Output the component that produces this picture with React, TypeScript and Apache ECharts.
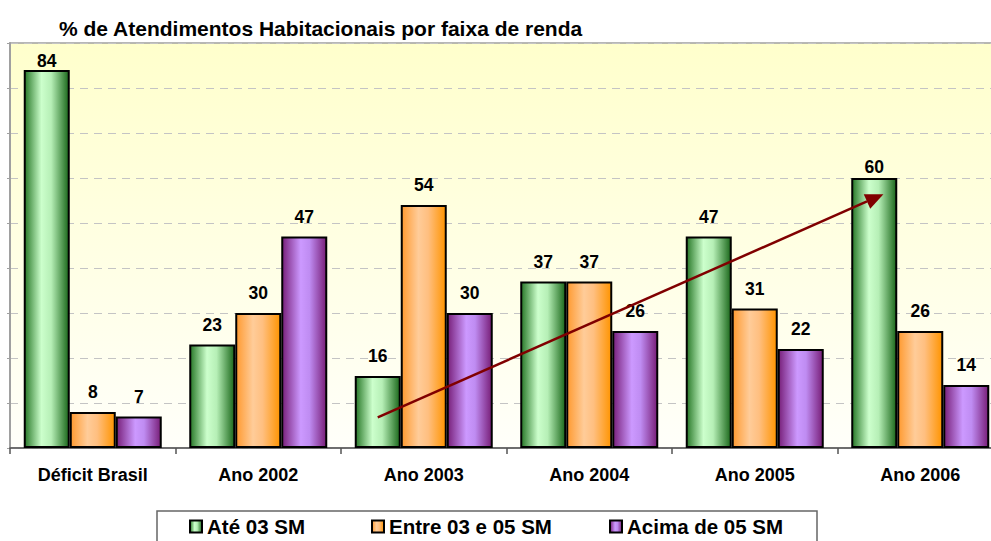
import React, { useEffect, useRef } from "react";
import * as echarts from "echarts";

const titleText = "% de Atendimentos Habitacionais por faixa de renda";
const categories = ["Déficit Brasil", "Ano 2002", "Ano 2003", "Ano 2004", "Ano 2005", "Ano 2006"];
const seriesNames = ["Até 03 SM", "Entre 03 e 05 SM", "Acima de 05 SM"];
const ate03 = [84, 23, 16, 37, 47, 60];
const entre03e05 = [8, 30, 54, 37, 31, 26];
const acima05 = [7, 47, 30, 26, 22, 14];
const yTicks = [0, 10, 20, 30, 40, 50, 60, 70, 80, 90];
// arrow annotation in data terms: category, value, offset in bar widths from the category centre
const arrowStart = { category: "Ano 2003", value: 6.8, barOffset: -1.0 };
const arrowEnd = { category: "Ano 2006", value: 56.4, barOffset: -0.8 };

const FONT = '"Liberation Sans", Arial, sans-serif';
const BAR_W = 46;

function grad(stops: [number, string][]) {
  return new echarts.graphic.LinearGradient(
    0, 0, 1, 0,
    stops.map(([offset, color]) => ({ offset, color }))
  );
}

const gradients = [
  grad([[0, "#287828"], [0.38, "#ccffcc"], [0.6, "#b6efb6"], [1, "#1b681b"]]),
  grad([[0, "#ff9a30"], [0.38, "#ffcc99"], [0.6, "#ffbf80"], [1, "#ff9400"]]),
  grad([[0, "#78207a"], [0.42, "#cc99ff"], [0.62, "#bf8cf2"], [1, "#781e78"]]),
];

const legendLefts = [189, 371, 609];

export default function App() {
  const ref = useRef<HTMLDivElement>(null);
  useEffect(() => {
    if (!ref.current) return;
    const chart = echarts.init(ref.current, undefined, { renderer: "svg" });
    const seriesData = [ate03, entre03e05, acima05];
    const labelDist = (v: number) => {
      // labels near the top of the plot sit closer to the bar
      if (v >= 80) return 0;
      if (v >= 58) return 2;
      return 11;
    };
    const legendBox = {
      type: "rect",
      id: "legendBox",
      shape: { x: 157, y: 511, width: 660, height: 40 },
      style: { fill: "#ffffff", stroke: "#666666", lineWidth: 1.5 },
      z: 0,
    };
    chart.setOption({
      animation: false,
      backgroundColor: "#ffffff",
      textStyle: { fontFamily: FONT },
      title: {
        text: titleText,
        left: 54,
        top: 13,
        textStyle: { fontFamily: FONT, fontWeight: "bold", fontSize: 21, color: "#000" },
      },
      grid: {
        left: 10,
        top: 43,
        width: 993,
        height: 405,
        show: true,
        borderColor: "#a0a0a0",
        borderWidth: 1.5,
        backgroundColor: new echarts.graphic.LinearGradient(0, 0, 0, 1, [
          { offset: 0, color: "#ffffcc" },
          { offset: 1, color: "#fffffa" },
        ]),
      },
      legend: seriesNames.map((name, i) => ({
        data: [name],
        left: legendLefts[i],
        top: 516,
        padding: 0,
        itemWidth: 12,
        itemHeight: 12,
        icon: "rect",
        selectedMode: false,
        z: 5,
        textStyle: { fontFamily: FONT, fontWeight: "bold", fontSize: 20.5, color: "#000" },
      })),
      xAxis: {
        type: "category",
        data: categories,
        axisLine: { lineStyle: { color: "#555", width: 1.5 } },
        axisTick: { show: true, length: 6, lineStyle: { color: "#555", width: 1.5 } },
        axisLabel: { fontFamily: FONT, fontWeight: "bold", fontSize: 18, color: "#000", margin: 18 },
        splitLine: { show: false },
      },
      yAxis: {
        type: "value",
        min: yTicks[0],
        max: yTicks[yTicks.length - 1],
        interval: yTicks[1] - yTicks[0],
        axisLabel: { show: false },
        axisLine: { show: true, lineStyle: { color: "#a0a0a0", width: 2 } },
        axisTick: { show: true, length: 3, lineStyle: { color: "#a0a0a0" } },
        splitLine: { show: true, lineStyle: { color: "#c4c4c4", type: [8, 6], width: 1 } },
      },
      series: seriesNames.map((name, si) => ({
        name,
        type: "bar",
        barWidth: BAR_W,
        barGap: "0%",
        itemStyle: { color: gradients[si], borderColor: "#000", borderWidth: 2 },
        label: {
          show: true,
          position: "top",
          fontFamily: FONT,
          fontWeight: "bold",
          fontSize: 17.5,
          color: "#000",
        },
        data: seriesData[si].map((v) => ({
          value: v,
          label: { distance: labelDist(v) },
        })),
      })),
      graphic: [legendBox],
    });

    const ci = (c: string) => categories.indexOf(c);
    const p0 = chart.convertToPixel({ gridIndex: 0 }, [ci(arrowStart.category), arrowStart.value]) as number[];
    const p1 = chart.convertToPixel({ gridIndex: 0 }, [ci(arrowEnd.category), arrowEnd.value]) as number[];
    const sx = p0[0] + arrowStart.barOffset * BAR_W;
    const sy = p0[1];
    const ex = p1[0] + arrowEnd.barOffset * BAR_W;
    const ey = p1[1];
    const dx = ex - sx, dy = ey - sy;
    const len = Math.sqrt(dx * dx + dy * dy);
    const ux = dx / len, uy = dy / len;
    const headLen = 18, headHalf = 8;
    const bx = ex - ux * headLen, by = ey - uy * headLen;
    const nx = -uy, ny = ux;
    chart.setOption({
      graphic: [
        legendBox,
        {
          type: "line",
          id: "arrowLine",
          shape: { x1: sx, y1: sy, x2: bx, y2: by },
          style: { stroke: "#800000", lineWidth: 2.5 },
          z: 10,
        },
        {
          type: "polygon",
          id: "arrowHead",
          shape: {
            points: [
              [ex, ey],
              [bx + nx * headHalf, by + ny * headHalf],
              [bx - nx * headHalf, by - ny * headHalf],
            ],
          },
          style: { fill: "#800000" },
          z: 10,
        },
      ],
    });

    return () => chart.dispose();
  }, []);
  return (
    <div style={{ position: "fixed", left: 0, top: 0, width: "100vw", height: "100vh", overflow: "hidden", background: "#fff" }}>
      <div ref={ref} style={{ width: 1010, height: 541 }} />
    </div>
  );
}
